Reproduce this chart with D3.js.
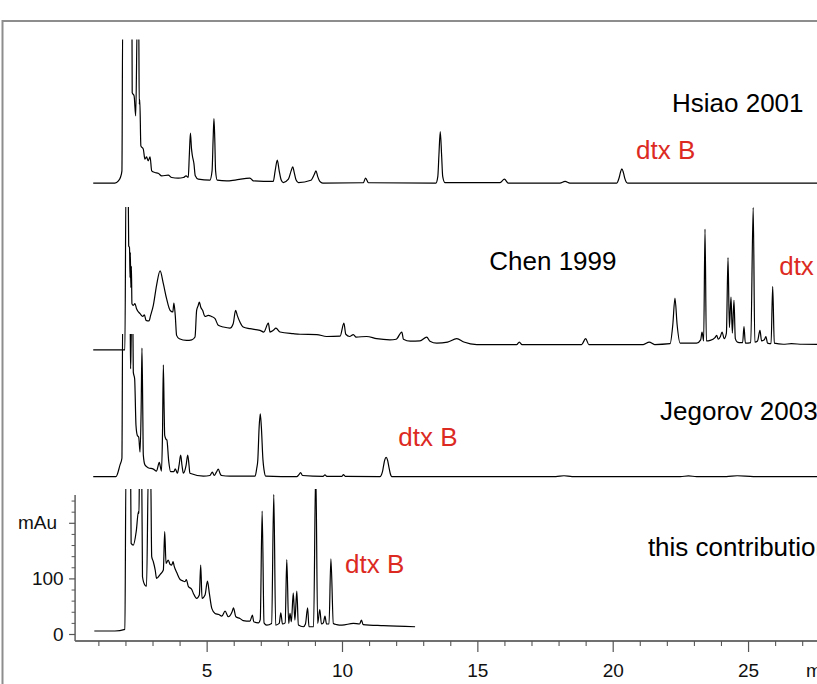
<!DOCTYPE html>
<html><head><meta charset="utf-8">
<script src="https://cdn.jsdelivr.net/npm/d3@7"></script>
<style>html,body{margin:0;padding:0;background:#fff;overflow:hidden}</style>
</head><body>
<svg id="c" width="817" height="684"></svg>
<script>
// ---------------- DATA ----------------
const traceNames = ["this contribution", "Jegorov 2003", "Chen 1999", "Hsiao 2001"];
const peakLabel = "dtx B";

// retention time (min), signal (mAu, relative to each trace's own baseline)
const contribution = [[0.85,5.4],[1.61,5.4],[1.98,8.4],[2.02,300],[2.19,300],[2.21,163],[2.29,160],[2.40,185],[2.48,220],[2.50,217],[2.52,300],[2.60,300],[2.63,103],[2.72,88],[2.78,86],[2.85,300],[2.93,300],[2.97,139],[3.03,130],[3.10,115],[3.15,100],[3.28,107],[3.40,115],[3.45,184],[3.50,127],[3.58,133],[3.65,125],[3.71,124],[3.76,130],[3.80,122],[3.90,110],[4.02,98],[4.10,96],[4.20,94],[4.25,98],[4.32,86],[4.45,80],[4.51,73],[4.63,64],[4.73,70],[4.78,124],[4.83,64],[4.94,70],[5.03,95],[5.10,73],[5.19,46],[5.31,37],[5.45,35],[5.56,32],[5.68,41],[5.80,31],[5.94,40],[5.99,47],[6.08,31],[6.23,28],[6.35,24],[6.60,23],[6.69,34],[6.74,22],[6.91,20],[6.98,26],[7.05,221],[7.12,20],[7.22,16],[7.40,19],[7.48,251],[7.55,16],[7.68,19],[7.74,38],[7.80,18],[7.90,20],[7.96,134],[8.03,19],[8.08,37],[8.13,22],[8.20,74],[8.26,25],[8.33,77],[8.39,16],[8.57,13],[8.65,18],[8.73,47],[8.78,13],[8.95,13],[9.03,300],[9.10,19],[9.18,44],[9.24,18],[9.31,20],[9.37,32],[9.43,18],[9.52,18],[9.59,135],[9.68,19],[9.80,17],[10.00,16],[10.42,19],[10.65,18],[10.72,25],[10.78,17],[11.53,15],[12.70,13]];

const jegorov2003 = [[0.81,0],[1.65,0],[1.80,21],[1.87,33],[1.90,300],[2.17,300],[2.19,194],[2.21,240],[2.23,300],[2.27,300],[2.29,188],[2.34,176],[2.39,92],[2.44,74],[2.49,71],[2.54,44],[2.58,120],[2.61,231],[2.64,120],[2.66,39],[2.72,21],[2.84,16],[3.03,13.5],[3.15,10],[3.25,25.5],[3.33,10],[3.37,80],[3.40,201],[3.43,120],[3.45,74],[3.50,67],[3.53,66],[3.60,27],[3.67,9],[3.79,9],[3.84,14],[3.92,6],[3.98,20],[4.04,38.6],[4.09,20],[4.14,6],[4.24,20],[4.30,38.6],[4.35,20],[4.38,6],[4.88,1],[5.12,2],[5.21,8],[5.28,2],[5.36,8],[5.43,13.5],[5.50,5],[5.55,2],[5.86,1],[6.79,1],[6.85,15],[6.89,30],[6.94,90],[6.98,113],[7.02,90],[7.08,30],[7.12,12],[7.18,1],[8.33,0],[8.40,3],[8.47,7],[8.54,2],[9.30,0.5],[9.37,3],[9.44,0.5],[10.0,0.5],[10.05,3.5],[10.12,0.5],[11.40,0],[11.50,10],[11.53,18],[11.58,30],[11.63,34.5],[11.68,30],[11.73,18],[11.78,6],[11.84,0],[17.9,0],[18.2,1.5],[18.5,0],[22.5,0],[22.8,1.2],[23.1,0],[24.2,0],[24.6,1.5],[25.2,0],[28,0]];

const chen1999 = [[0.81,0],[1.98,0],[2.02,300],[2.10,300],[2.12,187],[2.15,184],[2.17,130],[2.18,175],[2.20,112],[2.22,150],[2.24,83],[2.29,80],[2.35,83],[2.41,74],[2.54,65],[2.64,60],[2.70,63],[2.76,53],[2.87,52],[2.93,62],[3.03,80],[3.15,116],[3.28,142],[3.40,119],[3.52,92],[3.65,71],[3.75,68],[3.79,84],[3.84,62],[3.89,26],[3.99,20],[4.26,17],[4.45,18],[4.57,23],[4.63,71],[4.69,80],[4.73,86],[4.78,77],[4.85,71],[4.94,60],[5.06,62],[5.18,60],[5.31,56],[5.43,44],[5.62,41],[5.86,39],[5.98,47],[6.07,71],[6.13,62],[6.23,50],[6.35,41],[6.60,38],[6.97,35],[7.11,32],[7.28,48],[7.34,32],[7.46,35],[7.56,39],[7.71,32],[8.20,29],[8.45,28],[9.07,27.5],[9.43,24],[9.93,24.5],[10.07,48],[10.14,28],[10.28,24],[10.42,27.5],[10.52,23],[10.91,24],[11.28,20],[11.77,18],[12.0,19],[12.21,32],[12.27,19],[12.52,15.5],[12.88,16],[13.13,23],[13.25,15.5],[13.50,12],[13.9,14],[14.24,20],[14.5,14],[14.98,9.5],[16.45,9.5],[16.55,14],[16.65,9.5],[18.85,9.5],[19.0,20],[19.12,9.5],[21.13,9.5],[21.35,14],[21.55,9.5],[22.12,11],[22.22,45],[22.30,93],[22.38,45],[22.49,12],[23.10,12],[23.25,18],[23.30,32],[23.36,16],[23.41,217],[23.46,16],[23.60,17],[23.78,22],[23.84,26],[23.90,19],[23.98,24],[24.04,32],[24.12,20],[24.20,30],[24.26,166],[24.31,40],[24.37,95],[24.42,30],[24.48,89],[24.53,20],[24.60,14],[24.67,13],[24.80,13],[24.85,42],[24.90,12],[25.10,13],[25.19,256],[25.25,14],[25.35,16],[25.44,35],[25.50,16],[25.60,18],[25.66,24],[25.72,12],[25.85,11],[25.91,114],[25.97,12],[26.30,10],[26.6,11],[27.0,10],[28,9.5]];

const hsiao2001 = [[0.81,0],[1.61,0],[1.74,4],[1.82,11],[1.87,22],[1.90,300],[2.24,300],[2.25,162.7],[2.32,156.7],[2.38,120.8],[2.44,300],[2.49,300],[2.51,142],[2.53,150],[2.57,67],[2.66,61],[2.72,43],[2.78,47],[2.84,40],[2.91,47],[2.97,22],[3.09,19],[3.21,17.7],[3.34,13],[3.58,14.4],[3.71,10],[3.95,9],[4.14,10],[4.24,13],[4.32,10],[4.36,50],[4.40,89.8],[4.44,62],[4.47,50],[4.53,35],[4.58,13],[4.69,7],[5.12,5.4],[5.20,22],[5.24,80],[5.27,116],[5.30,80],[5.33,22],[5.39,5.4],[5.74,4],[6.05,5.4],[6.60,9],[6.72,4],[7.46,3],[7.53,22],[7.61,41.3],[7.68,22],[7.75,6],[7.83,1],[8.02,7],[8.12,22],[8.18,29.3],[8.24,18],[8.30,6],[8.39,1],[8.85,5],[8.98,16],[9.04,22],[9.10,12],[9.18,3],[9.29,0],[10.79,0.6],[10.87,9],[10.98,0.6],[13.47,0],[13.54,12],[13.58,50],[13.63,92.8],[13.68,50],[13.72,12],[13.80,1],[15.84,1],[16.0,7],[16.14,0],[18.05,0],[18.24,3],[18.42,0],[20.15,0],[20.24,10],[20.29,20],[20.34,25.7],[20.40,18],[20.45,8],[20.55,0],[28,0]];

const seriesList = [contribution, jegorov2003, chen1999, hsiao2001];

const xMajorTicks = [5, 10, 15, 20, 25];
const xTickLabels = ["5", "10", "15", "20", "25"];
const xMinorTicks = [1,2,3,4,6,7,8,9,11,12,13,14,16,17,18,19,21,22,23,24,26,27];
const yMajorTicks = [0, 100, 200];
const yTickLabels = ["0", "100", "mAu"];
const yMinorTicks = [20,40,60,80,120,140,160,180,220,240];
const xUnitLabel = "min";

// ---------------- LAYOUT ----------------
const W = 817, H = 684;
const layout = {
  offsets: [0, 283.1, 511.1, 811.0],       // stacking offsets (mAu)
  clipTop: [489, 334, 207, 39.5],          // pixel top of each trace's clipping window
  names: [[21.30, 140], [21.75, 384.2], [15.44, 655.3], [22.19, 939.5]], // [min, mAu]
  dtx:   [[10.11, 109], [12.08, 337.5], [26.15, 646.3], [20.86, 854]]
};
const font = "'Liberation Sans', Arial, Helvetica, sans-serif";
const red = "#dc2a22";

const x = d3.scaleLinear().domain([0, 30]).range([71.3, 71.3 + 30 * 27.07]);
const y = d3.scaleLinear().domain([0, 250]).range([634, 495]);

const svg = d3.select("#c");
svg.append("rect").attr("width", W).attr("height", H).attr("fill", "#fff");

// frame
svg.append("rect").attr("x", 2.5).attr("y", 21).attr("width", 1000).attr("height", 1000)
  .attr("fill", "none").attr("stroke", "#8d8d8d").attr("stroke-width", 2);

// clip paths
const defs = svg.append("defs");
layout.clipTop.forEach((top, i) => {
  defs.append("clipPath").attr("id", "clip" + i)
    .append("rect").attr("x", 0).attr("y", top).attr("width", W).attr("height", H - top);
});

// traces
seriesList.forEach((s, i) => {
  const off = layout.offsets[i];
  const line = d3.line().x(d => x(d[0])).y(d => y(d[1] + off)).curve(d3.curveMonotoneX);
  svg.append("path").datum(s).attr("d", line)
    .attr("clip-path", `url(#clip${i})`)
    .attr("fill", "none").attr("stroke", "#000").attr("stroke-width", 1.2)
    .attr("stroke-linejoin", "round");
});

// X axis
const axisY = 641;
const gx = svg.append("g").attr("transform", `translate(0,${axisY})`);
gx.append("line").attr("x1", x(0.14)).attr("x2", W + 5).attr("y1", 0).attr("y2", 0)
  .attr("stroke", "#707070").attr("stroke-width", 2);
const axMajor = d3.axisBottom(x).tickValues(xMajorTicks).tickSize(11).tickPadding(12)
  .tickFormat((d, i) => xTickLabels[i]);
const gM = gx.append("g").call(axMajor);
gM.select(".domain").remove();
gM.selectAll(".tick line").attr("stroke", "#555").attr("stroke-width", 1.2);
gM.selectAll(".tick text").attr("font-family", font).attr("font-size", 19).attr("fill", "#111");
const axMinor = d3.axisBottom(x).tickValues(xMinorTicks).tickSize(5).tickFormat("");
const gm = gx.append("g").call(axMinor);
gm.select(".domain").remove();
gm.selectAll(".tick line").attr("stroke", "#555").attr("stroke-width", 1.1);
svg.append("text").attr("x", 806).attr("y", 677).attr("font-family", font).attr("font-size", 19)
  .attr("fill", "#111").text(xUnitLabel);

// Y axis
const axisX = x(0.14);
const gy = svg.append("g").attr("transform", `translate(${axisX},0)`);
gy.append("line").attr("x1", 0).attr("x2", 0).attr("y1", y(-12.5)).attr("y2", y(250))
  .attr("stroke", "#606060").attr("stroke-width", 1.5);
const ayMajor = d3.axisLeft(y).tickValues(yMajorTicks).tickSize(6).tickPadding(5)
  .tickFormat((d, i) => yTickLabels[i]);
const gyM = gy.append("g").call(ayMajor);
gyM.select(".domain").remove();
gyM.selectAll(".tick line").attr("stroke", "#555").attr("stroke-width", 1.2);
gyM.selectAll(".tick text").attr("font-family", font).attr("font-size", 19).attr("fill", "#111")
  .attr("x", (d) => d === 200 ? -18 : -11.5);
const ayMinor = d3.axisLeft(y).tickValues(yMinorTicks).tickSize(3.5).tickFormat("");
const gym = gy.append("g").call(ayMinor);
gym.select(".domain").remove();
gym.selectAll(".tick line").attr("stroke", "#555").attr("stroke-width", 1);

// labels
traceNames.forEach((n, i) => {
  const p = layout.names[i];
  svg.append("text").attr("x", x(p[0])).attr("y", y(p[1]))
    .attr("font-family", font).attr("font-size", 26).attr("fill", "#000").text(n);
  const q = layout.dtx[i];
  svg.append("text").attr("x", x(q[0])).attr("y", y(q[1]))
    .attr("font-family", font).attr("font-size", 26).attr("fill", red).text(peakLabel);
});
</script>
</body></html>
